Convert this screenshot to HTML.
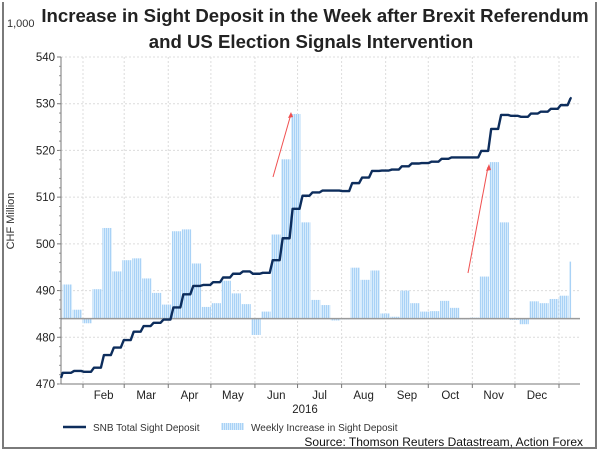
<!DOCTYPE html>
<html><head><meta charset="utf-8"><style>
body{margin:0;background:#fff;font-family:"Liberation Sans",Arial,sans-serif}
svg text{font-family:"Liberation Sans",Arial,sans-serif}
</style></head><body>
<svg id="chart" width="600" height="451" viewBox="0 0 600 451" xmlns="http://www.w3.org/2000/svg">
<defs>
<pattern id="stripe" width="2" height="4" patternUnits="userSpaceOnUse">
<rect width="2" height="4" fill="#d6ebfc"/><rect width="1" height="4" fill="#a9d2f6"/>
</pattern>
</defs>
<g>
<rect x="2" y="2" width="2" height="447" fill="#7a7a7a"/>
<rect x="595" y="2" width="2" height="447" fill="#7a7a7a"/>
<rect x="2" y="447" width="595" height="2" fill="#7a7a7a"/>
</g>
<text x="315" y="22" text-anchor="middle" font-size="18.6" font-weight="bold" fill="#222">Increase in Sight Deposit in the Week after Brexit Referendum</text>
<text x="311" y="48" text-anchor="middle" font-size="18.6" font-weight="bold" fill="#222">and US Election Signals Intervention</text>
<text x="7" y="27" font-size="11" fill="#333">1,000</text>
<text x="14" y="221" font-size="11" fill="#333" text-anchor="middle" transform="rotate(-90 14 221)">CHF Million</text>
<g id="grid"></g>
<g id="bars"></g>
<line id="baseline" stroke="#9a9a9a" stroke-width="1.5"/>
<g id="axes"></g>
<path id="line" fill="none" stroke="#0d2d5c" stroke-width="2.4" stroke-linejoin="round"/>
<g>
<line x1="273" y1="177" x2="291" y2="114" stroke="#f05050" stroke-width="1"/>
<path d="M291,112 L288,118 L293,117 Z" fill="#f05050"/>
</g>
<g>
<line x1="468" y1="273" x2="488" y2="167" stroke="#f05050" stroke-width="1"/>
<path d="M489,164 L486,171 L491,170 Z" fill="#f05050"/>
</g>
<text x="305" y="413" text-anchor="middle" font-size="11.5" fill="#222">2016</text>
<g>
<g>
<line x1="63" y1="427" x2="86" y2="427" stroke="#0d2d5c" stroke-width="2.4"/>
<text x="93" y="431" font-size="10" fill="#333">SNB Total Sight Deposit</text>
</g>
<g>
<rect x="221" y="423" width="23" height="7" fill="url(#stripe)"/>
<text x="251" y="431" font-size="10" fill="#333">Weekly Increase in Sight Deposit</text>
</g>
</g>
<text x="583" y="446" text-anchor="end" font-size="12" fill="#111">Source: Thomson Reuters Datastream, Action Forex</text>
</svg>
<script>
const yTicks=[470,480,490,500,510,520,530,540];
const months=["Feb","Mar","Apr","May","Jun","Jul","Aug","Sep","Oct","Nov","Dec"];
const monthStartDays=[31,60,91,121,152,182,213,244,274,305,335,366];
const barBase=484;
const weeklyBars=[491.3,485.9,483.0,490.3,503.4,494.1,496.5,496.9,492.6,489.5,487.0,502.7,503.1,495.8,486.5,487.3,492.1,489.4,487.1,480.5,485.5,502.0,518.1,527.8,504.6,488.0,486.9,483.6,484,494.9,492.3,494.3,485.1,484.4,490.0,487.3,485.5,485.6,487.8,486.3,484,484.2,493.0,517.5,504.6,483.7,482.8,487.7,487.3,488.2,488.9,496.2];
const totalDeposit=[472.4,472.8,472.6,473.5,476.2,477.8,479.4,481.2,482.4,483.1,483.8,486.4,489.2,491.0,491.2,491.8,492.8,493.6,494.1,493.6,493.8,496.5,501.2,507.5,510.3,511.0,511.4,511.4,511.3,513.0,514.2,515.6,515.7,515.9,516.6,517.2,517.3,517.6,518.2,518.5,518.5,518.5,519.9,524.6,527.6,527.4,527.2,527.9,528.3,528.9,529.7,531.2];
const startDeposit=471.3;

const NS="http://www.w3.org/2000/svg";
const L=61,R=580,T=57,B=384;
const y=v=>T+(540-v)*(B-T)/70;
const x0=62.7, wk=9.93;
const xd=d=>83+(d-31)*(559-83)/(366-31);
function mk(tag,attrs,parent){const e=document.createElementNS(NS,tag);for(const k in attrs)e.setAttribute(k,attrs[k]);parent.appendChild(e);return e;}
const grid=document.getElementById('grid'),axes=document.getElementById('axes'),bars=document.getElementById('bars');
yTicks.forEach(v=>{
 const g=mk('line',{x1:L,x2:R,y1:y(v),y2:y(v),stroke:'#dcdcdc','stroke-dasharray':'2,2'},grid);
 
 
 const t=mk('line',{x1:L-4,x2:L,y1:y(v),y2:y(v),stroke:'#777'},axes);
 
 
 const lb=mk('text',{x:L-6,y:y(v)+4,'text-anchor':'end','font-size':'11.5',fill:'#222'},axes);
 lb.textContent=v;
 
 
});
for(let v=470;v<540;v+=2){const m=mk('line',{x1:L-2,x2:L,y1:y(v),y2:y(v),stroke:'#999'},axes);}
monthStartDays.forEach((d,i)=>{
 const X=xd(d);
 const g=mk('line',{x1:X,x2:X,y1:T,y2:B,stroke:'#dcdcdc','stroke-dasharray':'2,2'},grid);
 
 
 const t=mk('line',{x1:X,x2:X,y1:B,y2:B+4,stroke:'#777'},axes);
 
 
});
months.forEach((m,i)=>{
 const X=(xd(monthStartDays[i])+xd(monthStartDays[i+1]))/2;
 const t=mk('text',{x:X,y:399,'text-anchor':'middle','font-size':'11.5',fill:'#222'},axes);
 t.textContent=m;
 
 
});
mk('line',{x1:L,x2:L,y1:T,y2:B,stroke:'#777'},axes);
mk('line',{x1:L,x2:R,y1:B,y2:B,stroke:'#777'},axes);
const bl=document.getElementById('baseline');
bl.setAttribute('x1',L);bl.setAttribute('x2',R);bl.setAttribute('y1',y(barBase));bl.setAttribute('y2',y(barBase));
weeklyBars.forEach((v,i)=>{
 const bx=x0+i*wk;
 const w=i===weeklyBars.length-1?2:wk-0.6;
 const y1=Math.min(y(v),y(barBase)),h=Math.abs(y(v)-y(barBase));
 const r=mk('rect',{x:bx,y:y1,width:w,height:Math.max(h,0.8),fill:'url(#stripe)'},bars);
 
 
});
let d='M'+L+','+y(startDeposit)+' L'+x0+','+y(totalDeposit[0]);
totalDeposit.forEach((v,i)=>{
 const bx=x0+i*wk;
 if(i>0)d+=' L'+(bx+1.5)+','+y(v);
 if(i<totalDeposit.length-1)d+=' L'+(bx+wk-1.5)+','+y(v);
 else d+=' L'+(bx+1)+','+y(v);
});
document.getElementById('line').setAttribute('d',d);
</script>
</body></html>
